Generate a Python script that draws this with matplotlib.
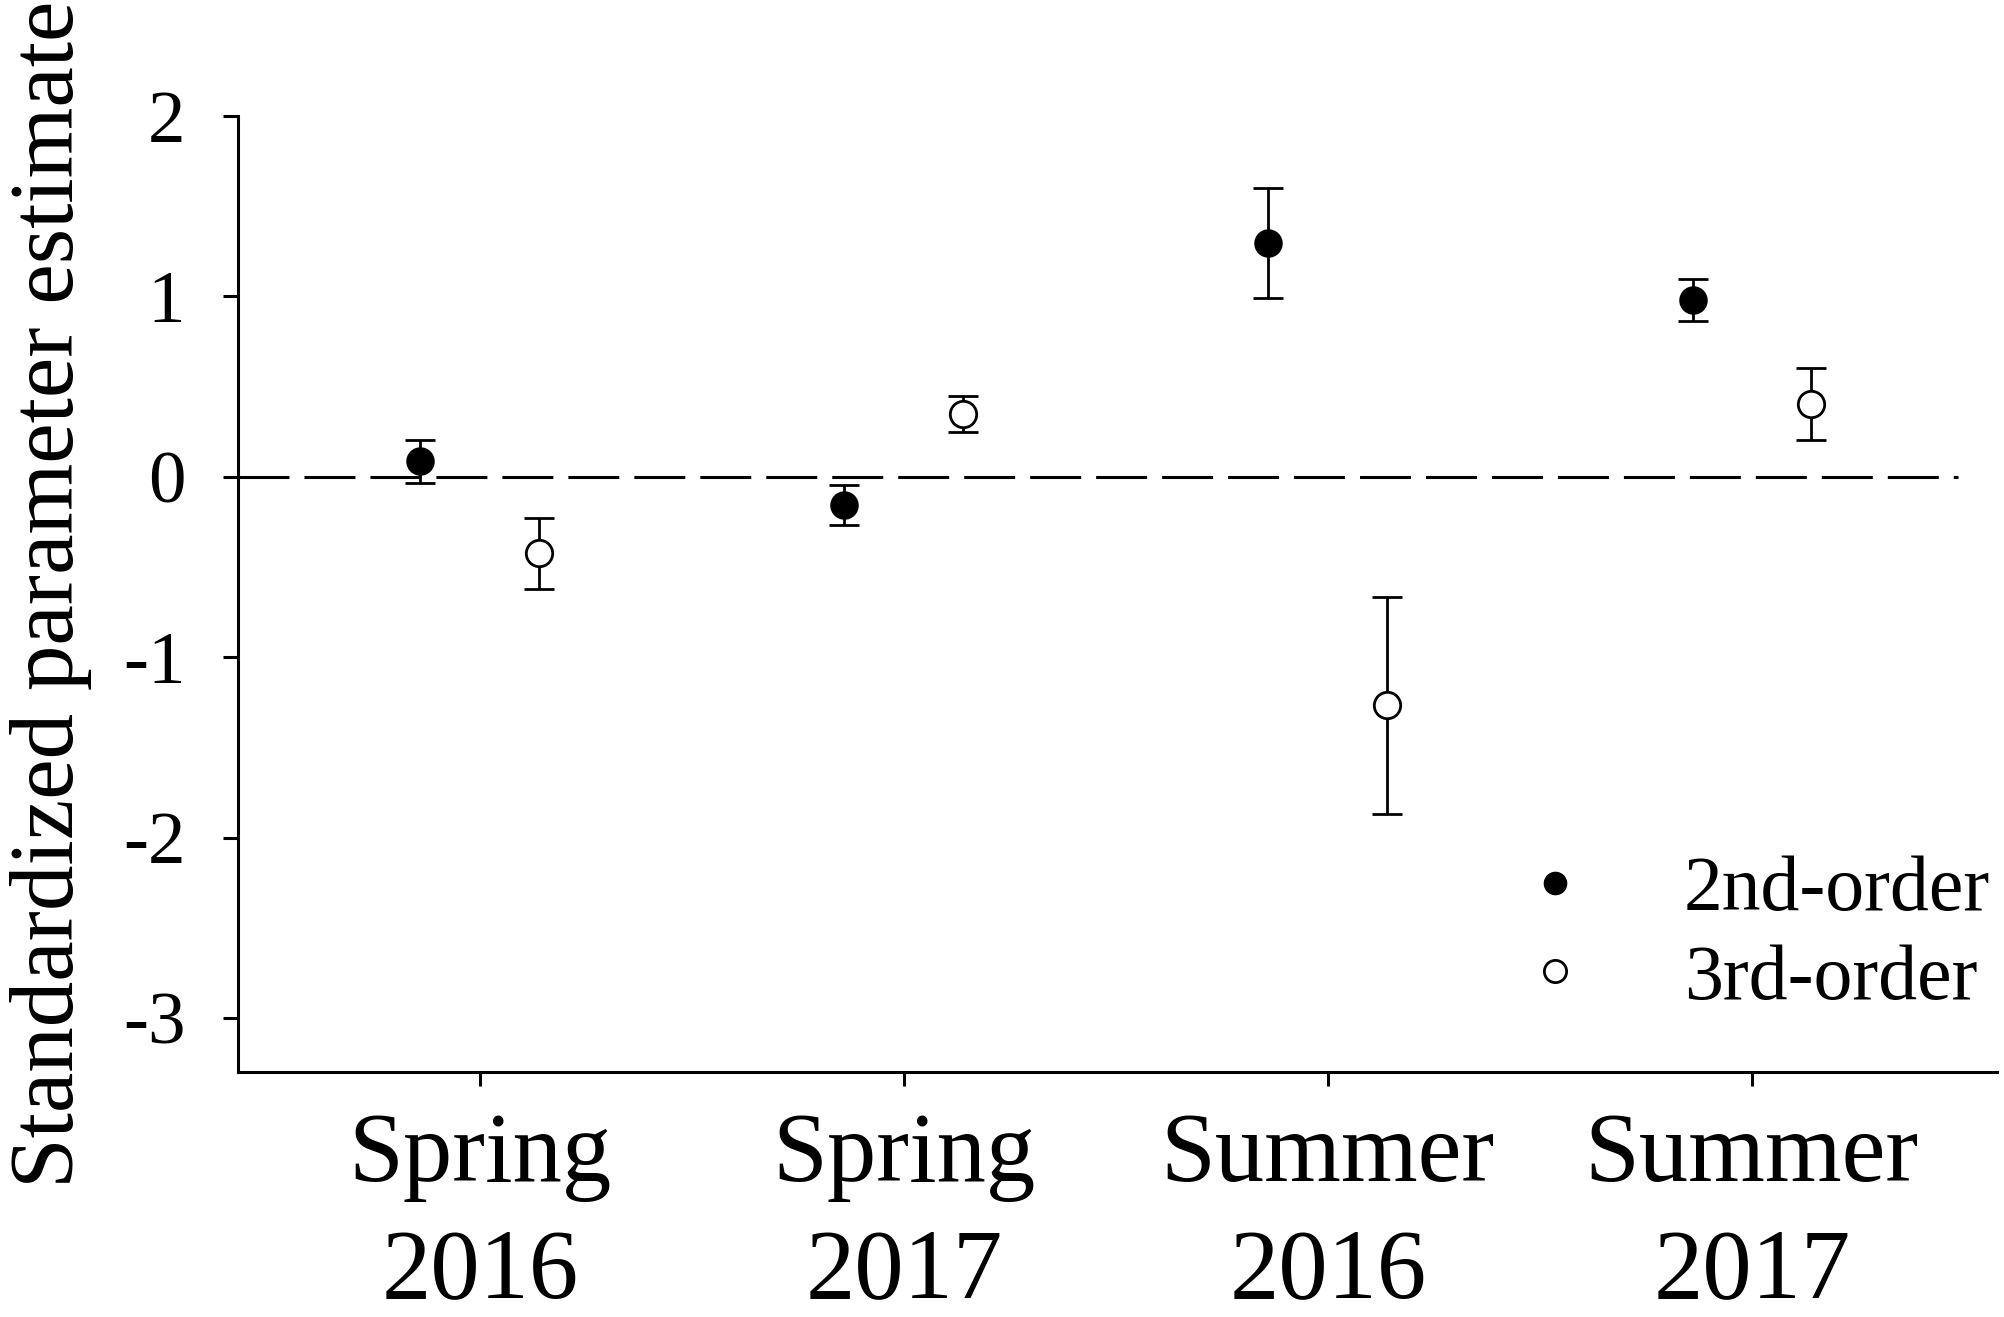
import matplotlib
matplotlib.use("Agg")
import matplotlib.pyplot as plt
import numpy as np
from matplotlib.lines import Line2D

# ---- data ----
categories = ["Spring\n2016", "Spring\n2017", "Summer\n2016", "Summer\n2017"]
second_order = [0.085, -0.155, 1.295, 0.98]
second_err = [0.12, 0.11, 0.305, 0.115]
third_order = [-0.425, 0.347, -1.267, 0.403]
third_err = [0.195, 0.10, 0.60, 0.20]
ytick_values = [-3, -2, -1, 0, 1, 2]
ytick_labels = ["-3", "-2", "-1", "0", "1", "2"]
series_labels = ["2nd-order", "3rd-order"]

plt.rcParams['font.family'] = ['Liberation Serif', 'DejaVu Serif']
plt.rcParams['lines.scale_dashes'] = False

fig = plt.figure(figsize=(20.04, 13.17), dpi=100)
ax = fig.add_axes([0.1188, 0.186, 0.8777, 0.7259])

x = np.arange(1, len(categories) + 1)
off = 0.14
lw = 2.0

ax.axhline(0, xmin=0, xmax=0.978, color='black', lw=2.2, dashes=(36.7, 10.8), zorder=1)

ax.errorbar(x - off, second_order, yerr=second_err, fmt='none', ecolor='black',
            elinewidth=lw, capsize=11, capthick=lw, zorder=2)
ax.errorbar(x + off, third_order, yerr=third_err, fmt='none', ecolor='black',
            elinewidth=lw, capsize=11, capthick=lw, zorder=2)
ax.plot(x - off, second_order, 'o', ms=19, mfc='black', mec='black', mew=1.5,
        ls='none', zorder=3, label=series_labels[0])
ax.plot(x + off, third_order, 'o', ms=19, mfc='white', mec='black', mew=2,
        ls='none', zorder=3, label=series_labels[1])

ax.set_xlim(0.43, 4.578)
ax.set_ylim(-3.3, 2)
ax.set_xticks(x)
ax.set_xticklabels(categories, fontsize=71, linespacing=1.38)
ax.set_yticks(ytick_values)
ax.set_yticklabels(ytick_labels, fontsize=54)

for s in ['top', 'right']:
    ax.spines[s].set_visible(False)
for s in ['left', 'bottom']:
    ax.spines[s].set_linewidth(2.2)

ax.tick_params(axis='y', direction='out', length=11, width=2.2, pad=27)
ax.tick_params(axis='x', direction='out', length=10, width=2.2, pad=19)

ax.set_ylabel("Standardized parameter estimate", fontsize=65.5)
ax.yaxis.set_label_coords(-0.083, 0.5)

h1 = Line2D([], [], marker='o', ms=16, mfc='black', mec='black', ls='none')
h2 = Line2D([], [], marker='o', ms=16, mfc='white', mec='black', mew=2, ls='none')
leg = ax.legend([h1, h2], series_labels, loc='lower right', frameon=False,
                fontsize=56, handletextpad=0.65, labelspacing=0.22,
                borderpad=0, borderaxespad=0,
                bbox_to_anchor=(0.996, 0.059))

fig.savefig("out.png", dpi=100, facecolor='white')
